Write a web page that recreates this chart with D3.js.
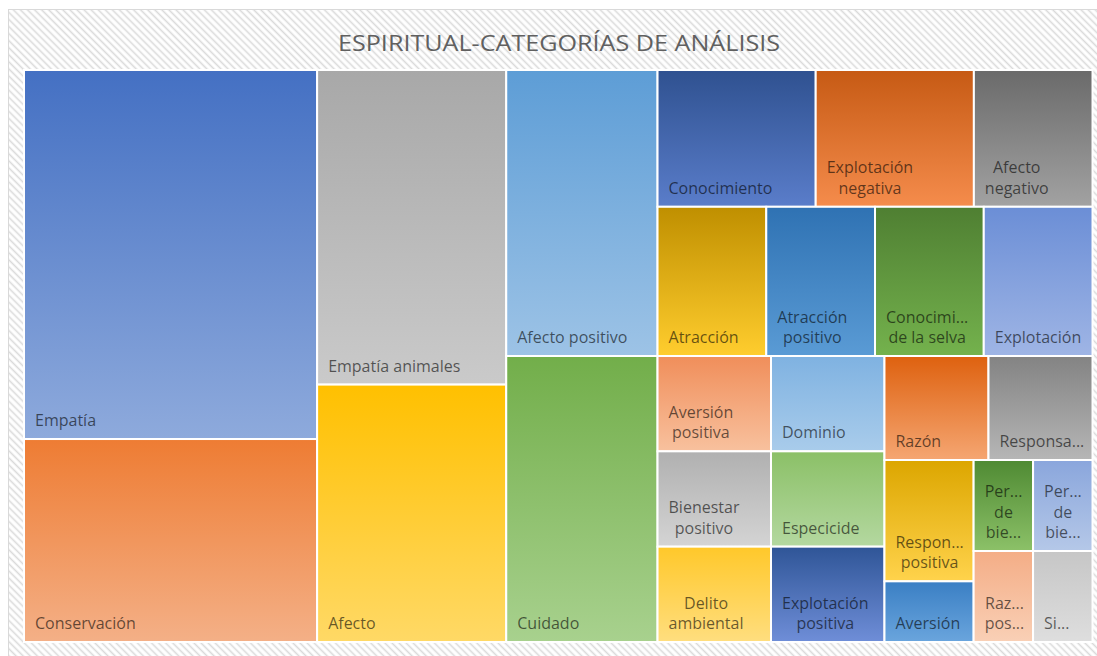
<!DOCTYPE html>
<html>
<head>
<meta charset="utf-8">
<script src="https://cdn.jsdelivr.net/npm/d3@7"></script>
<style>
  body { margin: 0; background: #fff; }
  svg { display: block; }
  .label { font-family: "Open Sans", sans-serif; font-size: 16px; fill: #000; fill-opacity: 0.6; }
  .title { font-family: "Open Sans", sans-serif; font-size: 22px; fill: #606060; }
</style>
</head>
<body>
<div id="chart"></div>
<script>
// categories as they appear in the chart (Excel order: by value, then alphabetical)
const categories = [
  "Empatía", "Conservación", "Empatía animales", "Afecto", "Afecto positivo", "Cuidado",
  "Conocimiento", "Explotación negativa", "Afecto negativo", "Atracción", "Atracción positivo",
  "Conocimi... de la selva", "Explotación", "Aversión positiva", "Bienestar positivo",
  "Delito ambiental", "Dominio", "Especicide", "Explotación positiva", "Razón",
  "Responsa...", "Respon... positiva", "Aversión", "Per... de bie...", "Per... de bie...",
  "Raz... pos...", "Si..."
]
const counts = [20, 11, 11, 9, 8, 8, 4, 4, 3, 3, 3, 3, 3, 2, 2, 2, 2, 2, 2, 2, 2, 2, 1, 1, 1, 1, 1]

// gradient colours, top -> bottom of each tile
const colorTop = [
  "#4470c3", "#ee7c33", "#a8a8a8", "#ffc000", "#5d9dd6", "#72ae4a",
  "#2f5190", "#c65a14", "#6a6a6a", "#bf8f00", "#2f72b3", "#4f7f32",
  "#6b8ed6", "#f08e5a", "#b0b0b0", "#ffc82a", "#7fb2e1", "#8bc067",
  "#2f5597", "#de610f", "#838383", "#dca600", "#3a7fc4", "#4f8a33",
  "#8aa6dc", "#f4ad86", "#c6c6c6"
]
const colorBottom = [
  "#8eaadc", "#f4b087", "#cacaca", "#ffd966", "#9dc3e6", "#a8d18e",
  "#5a7dca", "#f58c4c", "#a2a2a2", "#ffcd2e", "#5a9bd5", "#74b24d",
  "#9fb5e5", "#f8c19e", "#d4d4d4", "#ffde7f", "#a9cceb", "#b4d8a0",
  "#6f8ed8", "#f5a672", "#b6b6b6", "#ffd34c", "#6aa5dd", "#8cc168",
  "#b5c8e8", "#f9d0b6", "#dedede"
]

const width = 1097, height = 656
const plot = { x0: 24, y0: 70, x1: 1092.5, y1: 642 }
const tallness = 1.15   // Excel's layout leans to slightly tall cells

const svg = d3.select("#chart").append("svg")
  .attr("width", width)
  .attr("height", height)

const defs = svg.append("defs")

// hatched chart background
const hatch = defs.append("pattern")
  .attr("id", "hatch")
  .attr("patternUnits", "userSpaceOnUse")
  .attr("width", 5)
  .attr("height", 5)
  .attr("patternTransform", "rotate(45)")
hatch.append("rect").attr("width", 5).attr("height", 5).attr("fill", "#fff")
hatch.append("line")
  .attr("x1", 0).attr("y1", 2.5).attr("x2", 5).attr("y2", 2.5)
  .attr("stroke", "#dadada")
  .attr("stroke-width", 1.6)

svg.append("rect")
  .attr("x", 8.5)
  .attr("y", 9.5)
  .attr("width", width)
  .attr("height", height)
  .attr("fill", "url(#hatch)")
  .attr("stroke", "#d9d9d9")

svg.append("text")
  .attr("class", "title")
  .attr("x", 559)
  .attr("y", 51)
  .attr("text-anchor", "middle")
  .attr("textLength", 442)
  .attr("lengthAdjust", "spacingAndGlyphs")
  .text("ESPIRITUAL-CATEGORÍAS DE ANÁLISIS")

// squarified tiling, rows laid along the shorter side
function tile(parent, x0, y0, x1, y1) {
  const nodes = parent.children
  let value = parent.value
  let i0 = 0
  while (i0 < nodes.length) {
    const dx = x1 - x0, dy = y1 - y0
    const dice = dx < dy
    const side = dice ? dx : dy
    const unit = dx * dy / value
    let sum = 0, worst = Infinity, i1 = i0
    for (; i1 < nodes.length; i1++) {
      const s = sum + nodes[i1].value
      const t = s * unit / side
      let w = 0
      for (let k = i0; k <= i1; k++) {
        const l = nodes[k].value / s * side
        const q = (dice ? t / l : l / t) / tallness
        w = Math.max(w, q, 1 / q)
      }
      if (w > worst) break
      worst = w
      sum = s
    }
    const row = { value: sum, children: nodes.slice(i0, i1) }
    if (dice) {
      const yy = y0 + dy * sum / value
      d3.treemapDice(row, x0, y0, x1, yy)
      y0 = yy
    } else {
      const xx = x0 + dx * sum / value
      d3.treemapSlice(row, x0, y0, xx, y1)
      x0 = xx
    }
    value -= sum
    i0 = i1
  }
}

const data = { name: "root", children: categories.map((c, i) => ({ name: c, value: counts[i], idx: i })) }

const root = d3.hierarchy(data)
  .sum(d => d.value || 0)
  .sort((a, b) => b.value - a.value)

d3.treemap()
  .tile(tile)
  .size([plot.x1 - plot.x0, plot.y1 - plot.y0])
  .round(false)(root)

const leaves = root.leaves()

leaves.forEach(d => {
  const g = defs.append("linearGradient")
    .attr("id", "grad" + d.data.idx)
    .attr("x1", 0).attr("y1", 0).attr("x2", 0).attr("y2", 1)
  g.append("stop").attr("offset", "0%").attr("stop-color", colorTop[d.data.idx])
  g.append("stop").attr("offset", "100%").attr("stop-color", colorBottom[d.data.idx])
})

const cell = svg.append("g")
  .attr("transform", `translate(${plot.x0},${plot.y0})`)
  .selectAll("g")
  .data(leaves)
  .enter().append("g")

cell.append("rect")
  .attr("x", d => d.x0)
  .attr("y", d => d.y0)
  .attr("width", d => d.x1 - d.x0)
  .attr("height", d => d.y1 - d.y0)
  .attr("fill", d => "url(#grad" + d.data.idx + ")")
  .attr("stroke", "#fff")
  .attr("stroke-width", 2)

// text measuring helper
const probe = svg.append("text").attr("class", "label").attr("visibility", "hidden")
function measure(s) {
  probe.text(s)
  return probe.node().getComputedTextLength()
}

const pad = 11
cell.each(function(d) {
  const words = d.data.name.split(" ")
  const avail = d.x1 - d.x0 - 18
  let lines = [], cur = words[0]
  words.slice(1).forEach(w => {
    const test = cur + " " + w
    if (measure(test) > avail) { lines.push(cur); cur = w }
    else cur = test
  })
  lines.push(cur)
  const bw = d3.max(lines, measure)
  const cx = d.x0 + pad + bw / 2
  const text = d3.select(this).append("text")
    .attr("class", "label")
    .attr("text-anchor", "middle")
  lines.forEach((l, i) => {
    text.append("tspan")
      .attr("x", cx)
      .attr("y", d.y1 - 13 - (lines.length - 1 - i) * 20.5)
      .text(l)
  })
})
probe.remove()
</script>
</body>
</html>
